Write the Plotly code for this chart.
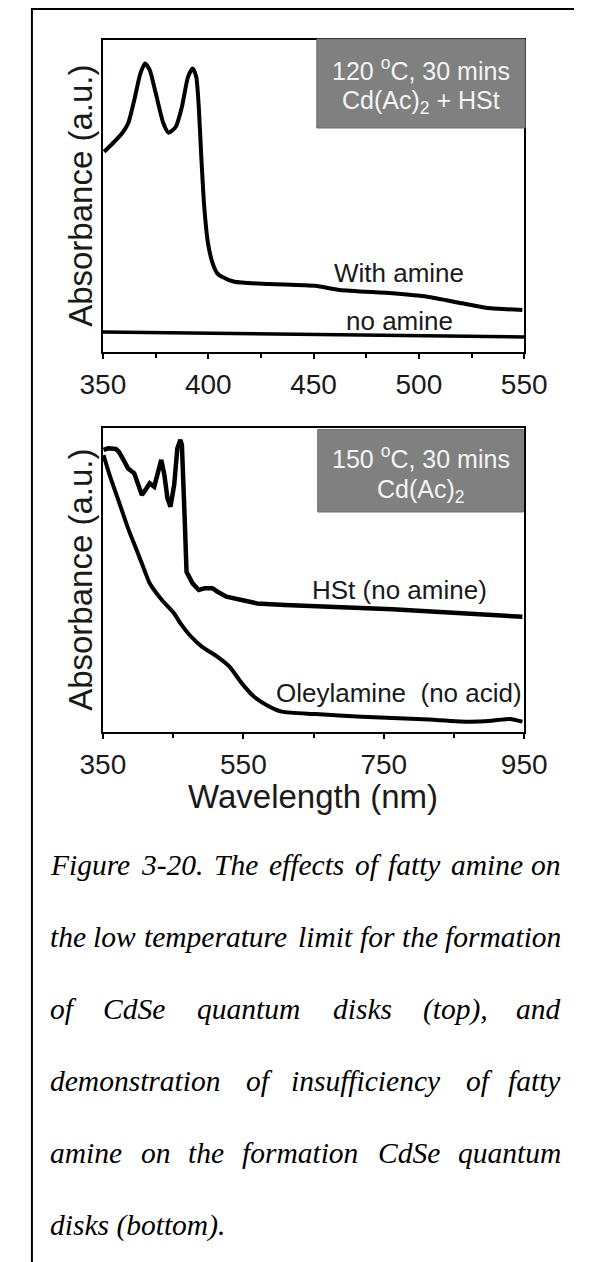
import plotly.graph_objects as go

PAGE_W, PAGE_H = 597, 1262
OFF = 8                      # default body margin of the html page
W, H = PAGE_W - OFF, PAGE_H - OFF

# ---------------- data ----------------
# Top panel: 120 oC, 30 mins, Cd(Ac)2 + HSt
top_wl_amine = [350.6, 354.7, 359.1, 362.0, 364.9, 367.8, 370.0, 372.2, 375.1, 378.7,
                381.2, 384.6, 387.5, 390.4, 392.6, 394.3, 395.5, 396.7, 398.1, 399.9,
                402.1, 404.3, 406.5, 412.4, 429.1, 450.7, 462.4, 487.4, 504.0, 520.7,
                534.1, 549.1]
top_abs_amine = [0.642, 0.669, 0.701, 0.733, 0.808, 0.893, 0.925, 0.904, 0.829, 0.733,
                 0.703, 0.722, 0.786, 0.882, 0.909, 0.882, 0.786, 0.626, 0.466, 0.348,
                 0.284, 0.252, 0.241, 0.225, 0.218, 0.212, 0.199, 0.188, 0.177, 0.156,
                 0.140, 0.135]
top_wl_noamine = [350, 400, 450, 500, 550]
top_abs_noamine = [0.064, 0.060, 0.055, 0.051, 0.048]

# Bottom panel: 150 oC, 30 mins, Cd(Ac)2
bot_wl_hst = [350.9, 357.5, 368.4, 372.7, 379.3, 385.8, 394.6, 401.2, 405.5, 412.1,
              416.6, 423.1, 428.8, 433.1, 437.6, 441.9, 446.2, 451.5, 456.0, 460.3,
              462.5, 464.6, 466.8, 469.1, 477.7, 486.5, 495.3, 506.2, 512.8, 525.9,
              547.9, 569.6, 609.0, 674.7, 762.2, 867.3, 887.0, 947.4]
bot_abs_hst = [0.928, 0.933, 0.931, 0.922, 0.895, 0.867, 0.851, 0.807, 0.780, 0.802,
               0.818, 0.807, 0.856, 0.895, 0.845, 0.769, 0.741, 0.813, 0.933, 0.961,
               0.944, 0.845, 0.681, 0.527, 0.489, 0.467, 0.473, 0.473, 0.462, 0.445,
               0.432, 0.423, 0.418, 0.412, 0.404, 0.390, 0.388, 0.379]
bot_wl_oley = [350.9, 359.6, 372.7, 385.8, 399.0, 410.0, 416.6, 434.0, 451.5, 460.3,
               473.4, 490.9, 512.8, 530.3, 547.9, 565.3, 582.8, 604.7, 652.9, 718.5,
               806.0, 872.5, 902.7, 929.8, 947.4]
bot_abs_oley = [0.911, 0.845, 0.758, 0.670, 0.593, 0.527, 0.489, 0.434, 0.390, 0.358,
                0.319, 0.281, 0.248, 0.215, 0.160, 0.116, 0.089, 0.067, 0.059, 0.050,
                0.042, 0.034, 0.037, 0.043, 0.034]

top_ticks = [350, 400, 450, 500, 550]
top_minor = [375, 425, 475, 525]
bot_ticks = [350, 550, 750, 950]
bot_minor = [450, 650, 850]

caption_lines = [
    "Figure 3-20. The effects of fatty amine on",
    "the low temperature limit for the formation",
    "of CdSe quantum disks (top), and",
    "demonstration of insufficiency of fatty",
    "amine on the formation CdSe quantum",
    "disks (bottom).",
]

# ---------------- helpers (page pixel -> paper fraction) ----------------
def px(x):
    return (x - OFF) / W


def py(y):
    return 1 - (y - OFF) / H


SANS = "Liberation Sans, Arial, sans-serif"
SERIF = "Liberation Serif, Times New Roman, serif"

fig = go.Figure()
fig.add_trace(go.Scatter(x=top_wl_amine, y=top_abs_amine, mode="lines",
                         line=dict(color="black", width=4, shape="spline", smoothing=0.6),
                         xaxis="x", yaxis="y", showlegend=False))
fig.add_trace(go.Scatter(x=top_wl_noamine, y=top_abs_noamine, mode="lines",
                         line=dict(color="black", width=3.5),
                         xaxis="x", yaxis="y", showlegend=False))
fig.add_trace(go.Scatter(x=bot_wl_hst, y=bot_abs_hst, mode="lines",
                         line=dict(color="black", width=4.5),
                         xaxis="x2", yaxis="y2", showlegend=False))
fig.add_trace(go.Scatter(x=bot_wl_oley, y=bot_abs_oley, mode="lines",
                         line=dict(color="black", width=4, shape="spline", smoothing=0.6),
                         xaxis="x2", yaxis="y2", showlegend=False))

axis_common = dict(showline=True, linecolor="black", linewidth=2, mirror=True,
                   showgrid=False, zeroline=False)

fig.update_layout(
    width=W, height=H,
    margin=dict(l=0, r=0, t=0, b=0),
    paper_bgcolor="white", plot_bgcolor="white",
    xaxis=dict(domain=[px(86), px(543)], range=[350, 550], anchor="y",
               tickvals=top_ticks, ticks="outside", ticklen=5, tickwidth=2, tickcolor="black",
               minor=dict(tickvals=top_minor, ticks="outside", ticklen=4, tickwidth=1.5,
                          tickcolor="black"),
               tickfont=dict(family=SANS, size=28, color="#1a1a1a"),
               ticklabelstandoff=1, **axis_common),
    yaxis=dict(domain=[py(352), py(40)], range=[0, 1], anchor="x",
               ticks="", showticklabels=False, **axis_common),
    xaxis2=dict(domain=[px(86), px(543)], range=[350, 950], anchor="y2",
                tickvals=bot_ticks, ticks="outside", ticklen=5, tickwidth=2, tickcolor="black",
                minor=dict(tickvals=bot_minor, ticks="outside", ticklen=4, tickwidth=1.5,
                           tickcolor="black"),
                tickfont=dict(family=SANS, size=28, color="#1a1a1a"),
                ticklabelstandoff=1, **axis_common),
    yaxis2=dict(domain=[py(732), py(428)], range=[0, 1], anchor="x2",
                ticks="", showticklabels=False, **axis_common),
)

shapes = [
    # outer page frame (left and top)
    dict(type="line", xref="paper", yref="paper", x0=px(9), x1=px(9), y0=py(8), y1=0,
         line=dict(color="black", width=2)),
    dict(type="line", xref="paper", yref="paper", x0=px(9), x1=1, y0=py(9), y1=py(9),
         line=dict(color="black", width=2)),
    # inset label boxes
    dict(type="rect", xref="paper", yref="paper", x0=px(318), x1=px(544), y0=py(128), y1=py(39),
         fillcolor="#808080", line=dict(color="#6e6e6e", width=1), layer="above"),
    dict(type="rect", xref="paper", yref="paper", x0=px(319), x1=px(542), y0=py(512), y1=py(429.5),
         fillcolor="#808080", line=dict(color="#6e6e6e", width=1), layer="above"),
]
fig.update_layout(shapes=shapes)

ann = []
# axis titles
ann.append(dict(text="Absorbance (a.u.)", xref="paper", yref="paper", x=px(61), y=py(196),
                textangle=-90, showarrow=False, xanchor="center", yanchor="middle",
                font=dict(family=SANS, size=33, color="#1a1a1a")))
ann.append(dict(text="Absorbance (a.u.)", xref="paper", yref="paper", x=px(61), y=py(580),
                textangle=-90, showarrow=False, xanchor="center", yanchor="middle",
                font=dict(family=SANS, size=33, color="#1a1a1a")))
ann.append(dict(text="Wavelength (nm)", xref="paper", yref="paper", x=px(314), y=py(796),
                showarrow=False, xanchor="center", yanchor="middle",
                font=dict(family=SANS, size=33, color="#1a1a1a")))

# curve labels
lab_font = dict(family=SANS, size=26, color="#1a1a1a")
ann.append(dict(text="With amine", xref="x", yref="y", x=490.5, y=0.253, showarrow=False,
                xanchor="center", yanchor="middle", font=lab_font))
ann.append(dict(text="no amine", xref="x", yref="y", x=491, y=0.099, showarrow=False,
                xanchor="center", yanchor="middle", font=lab_font))
ann.append(dict(text="HSt (no amine)", xref="x2", yref="y2", x=772, y=0.467, showarrow=False,
                xanchor="center", yanchor="middle", font=lab_font))
ann.append(dict(text="Oleylamine\u00a0 (no acid)", xref="x2", yref="y2", x=771, y=0.128,
                showarrow=False, xanchor="center", yanchor="middle", font=lab_font))

# inset box texts
box_font = dict(family=SANS, size=25, color="#f4f4f4")
for txt, yy in [("120 <sup>o</sup>C, 30 mins", 69), ("Cd(Ac)<sub>2</sub> + HSt", 102),
                ("150 <sup>o</sup>C, 30 mins", 457), ("Cd(Ac)<sub>2</sub>", 491)]:
    ann.append(dict(text=txt, xref="paper", yref="paper", x=px(430.5), y=py(yy),
                    showarrow=False, xanchor="center", yanchor="middle", font=box_font))

# caption: Times-like italic advance widths (per 1000 em), scaled to the rendered font
widths = {' ': 250, 'a': 500, 'b': 500, 'c': 444, 'd': 500, 'e': 444, 'f': 278, 'g': 500,
          'h': 500, 'i': 278, 'j': 278, 'k': 444, 'l': 278, 'm': 722, 'n': 500, 'o': 500,
          'p': 500, 'q': 500, 'r': 389, 's': 389, 't': 278, 'u': 500, 'v': 444, 'w': 667,
          'x': 444, 'y': 444, 'z': 389, 'C': 667, 'S': 500, 'F': 611, 'T': 556, '-': 333,
          '.': 250, ',': 250, '(': 333, ')': 333}
for dgt in "0123456789":
    widths[dgt] = 500

CAP_SIZE = 29.5
WIDTH_FACTOR = 1.11          # rendered italic runs wider than the nominal metrics
CAP_LEFT, CAP_RIGHT = 26, 585
cap_y0, cap_dy = 865, 72


def wlen(word):
    return sum(widths.get(c, 500) for c in word) * CAP_SIZE / 1000.0 * WIDTH_FACTOR


cap_font = dict(family=SERIF, size=CAP_SIZE, color="black")
for i, line in enumerate(caption_lines):
    yy = cap_y0 + i * cap_dy
    if i == len(caption_lines) - 1:
        ann.append(dict(text="<i>" + line + "</i>", xref="paper", yref="paper", x=px(CAP_LEFT),
                        y=py(yy), showarrow=False, xanchor="left", yanchor="middle",
                        font=cap_font))
        continue
    words = line.split(" ")
    total = sum(wlen(w) for w in words)
    gap = (CAP_RIGHT - CAP_LEFT - total) / (len(words) - 1)
    xpos = CAP_LEFT
    n = len(words)
    for k, w in enumerate(words):
        if k == n - 1:
            xa, xx = "right", CAP_RIGHT
        else:
            xa, xx = "left", xpos
        ann.append(dict(text="<i>" + w + "</i>", xref="paper", yref="paper", x=px(xx),
                        y=py(yy), showarrow=False, xanchor=xa, yanchor="middle",
                        font=cap_font))
        xpos += wlen(w) + gap

fig.update_layout(annotations=ann)
fig.write_html("out.html")
